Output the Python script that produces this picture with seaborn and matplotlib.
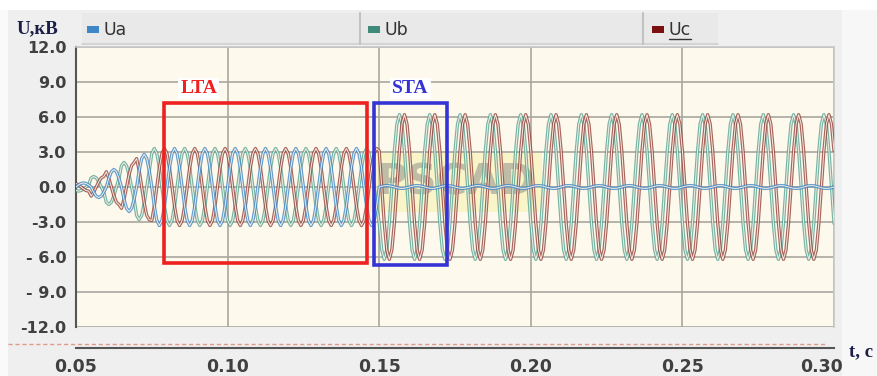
import numpy as np
import pandas as pd
import matplotlib.pyplot as plt
import matplotlib.patheffects as pe
import matplotlib.transforms as mtransforms
import seaborn as sns
from matplotlib.patches import Rectangle
from matplotlib.lines import Line2D

t_start = 0.05
t_end = 0.30
period = 0.01            # с, один период
samples_per_cycle = 12
phases = ["Ua", "Ub", "Uc"]
colors = ["#3f86c8", "#55a393", "#94403a"]

# один период, нормированный к амплитуде (шаг 30 градусов)
cycle_shape = [0.0, 0.5, 0.87, 1.0, 0.87, 0.5, 0.0, -0.5, -0.87, -1.0, -0.87, -0.5]
pre_shift = [0, 4, 8]          # сдвиг фаз до замыкания, в отсчётах
post_shift = [0, 5, 7]         # сдвиг фаз после замыкания
ramp_amp = [0.35, 0.9, 1.5, 2.1, 2.8]   # кВ, огибающая по полупериодам при включении
steady_amp = 3.3               # кВ
post_amp = [0.12, 6.2, 6.2]    # кВ после замыкания фазы A
fault_time = 0.1498

lta_box = [0.079, 0.146, -6.55, 7.17]
sta_box = [0.1483, 0.1724, -6.7, 7.17]

y_ticks = [12, 9, 6, 3, 0, -3, -6, -9, -12]
y_labels = ["12.0", "9.0", "6.0", "3.0", "0.0", "-3.0", "- 6.0", "- 9.0", "-12.0"]
x_ticks = [0.05, 0.10, 0.15, 0.20, 0.25, 0.30]
x_labels = ["0.05", "0.10", "0.15", "0.20", "0.25", "0.30"]

# --- сборка рядов ---
dt = period / samples_per_cycle
n = int(round((t_end - t_start) / dt)) + 1
k = np.arange(n)
t = t_start + k * dt
half = samples_per_cycle // 2
env = np.full(n, steady_amp)
env[:len(ramp_amp) * half] = np.repeat(ramp_amp, half)
shape = np.array(cycle_shape)

frames = []
for i, name in enumerate(phases):
    pre = env * shape[(k - pre_shift[i]) % samples_per_cycle]
    post = post_amp[i] * shape[(k - post_shift[i]) % samples_per_cycle]
    u = np.where(t >= fault_time, post, pre)
    frames.append(pd.DataFrame({"t": t, "U": u, "phase": name}))
df = pd.concat(frames, ignore_index=True)

sns.set_style("white")
plt.rcParams["font.family"] = ["DejaVu Sans"]

W, H = 878, 376
fig = plt.figure(figsize=(W / 100, H / 100), dpi=100, facecolor="#efefef")


def fx(px):
    return px / W


def fy(py):
    return 1 - py / H


# фон окна
fig.patches.append(Rectangle((0, fy(10)), 1, 10 / H, transform=fig.transFigure,
                             facecolor="white", edgecolor="none", zorder=-1))
fig.patches.append(Rectangle((fx(842), 0), 36 / W, fy(10), transform=fig.transFigure,
                             facecolor="#f7f7f7", edgecolor="none", zorder=-1))
fig.patches.append(Rectangle((0, 0), 8 / W, fy(10), transform=fig.transFigure,
                             facecolor="#fafafa", edgecolor="none", zorder=-1))

ax = fig.add_axes([fx(76), fy(327), (834 - 76) / W, (327 - 47) / H])
ax.set_facecolor("#fdf9ec")

palette = dict(zip(phases, colors))
sns.lineplot(data=df, x="t", y="U", hue="phase", hue_order=["Ub", "Uc", "Ua"],
             palette=palette, estimator=None, sort=False, linewidth=0.7,
             legend=False, ax=ax, zorder=3)
# «двойной» контур линий, как на скриншоте PSCAD
for line, col in zip(ax.get_lines(), [colors[1], colors[2], colors[0]]):
    line.set_color("#f4efe4")
    line.set_path_effects([pe.Stroke(linewidth=2.4, foreground=col, alpha=0.8), pe.Normal()])

ax.set_xlim(t_start, t_end)
ax.set_ylim(-12, 12)
ax.set_xticks(x_ticks)
ax.set_xticklabels(x_labels)
ax.set_yticks(y_ticks)
ax.set_yticklabels(y_labels)
ax.grid(True, color="#a9a79e", linewidth=1.2)
ax.set_axisbelow(True)
ax.set_xlabel("")
ax.set_ylabel("")

for s in ["top", "right"]:
    ax.spines[s].set_color("#c8c8c8")
    ax.spines[s].set_linewidth(1.2)
ax.spines["left"].set_color("#555555")
ax.spines["left"].set_linewidth(1.5)
ax.spines["bottom"].set_position(("outward", 15))
ax.spines["bottom"].set_color("#555555")
ax.spines["bottom"].set_linewidth(1.5)
ax.tick_params(axis="y", direction="out", length=4, width=1.2, color="#555555",
               pad=3, labelsize=11.5, labelcolor="#404040")
ax.tick_params(axis="x", direction="out", length=3, width=1.2, color="#555555",
               pad=4.5, labelsize=12.5, labelcolor="#404040")
for lab in ax.get_xticklabels() + ax.get_yticklabels():
    lab.set_fontweight("bold")
# последняя подпись сдвинута влево, чтобы не наезжать на «t, c»
last = ax.get_xticklabels()[-1]
last.set_transform(last.get_transform() + mtransforms.ScaledTranslation(-12 / 100, 0, fig.dpi_scale_trans))

# зоны LTA / STA
for box, col, label in [(lta_box, "#ee2020", "LTA"), (sta_box, "#3434d4", "STA")]:
    x0, x1, y0, y1 = box
    ax.add_patch(Rectangle((x0, y0), x1 - x0, y1 - y0, fill=False,
                           edgecolor=col, linewidth=2.6, zorder=5))
    ax.text((x0 + x1) / 2 if label == "STA" else x0 + 0.0115, y1 + 0.55, label,
            color=col, fontsize=14, fontweight="bold", family="Liberation Serif",
            ha="center", va="bottom", zorder=6,
            bbox=dict(facecolor="white", edgecolor="none", pad=1.5))

# водяной знак
ax.text(0.175, 0.4, "PSCAD", fontsize=30, fontweight="bold", color="#7a7a7a",
        alpha=0.45, ha="center", va="center", zorder=2,
        bbox=dict(facecolor="#f6f2a8", edgecolor="none", alpha=0.5, pad=6))

# пунктир под графиком
fig.lines.append(Line2D([fx(8), fx(826)], [fy(344), fy(344)], transform=fig.transFigure,
                        color="#e09a8a", linewidth=1.0, linestyle=(0, (3, 2))))

# панель легенды
fig.patches.append(Rectangle((fx(82), fy(44)), (718 - 82) / W, 31 / H,
                             transform=fig.transFigure, facecolor="#e9e9e9",
                             edgecolor="none", zorder=1))
fig.lines.append(Line2D([fx(82), fx(718)], [fy(44), fy(44)], transform=fig.transFigure,
                        color="#cfcfcf", linewidth=1.2))
for sx in [360, 643]:
    fig.lines.append(Line2D([fx(sx), fx(sx)], [fy(13), fy(44)], transform=fig.transFigure,
                            color="#c2c2c2", linewidth=1.5))
for px, name, col in [(87, "Ua", colors[0]), (368, "Ub", "#3f8a78"), (652, "Uc", "#7a1010")]:
    fig.patches.append(Rectangle((fx(px), fy(33)), 12 / W, 7 / H, transform=fig.transFigure,
                                 facecolor=col, edgecolor="none", zorder=2))
    fig.text(fx(px + 17), fy(30), name, fontsize=12.5, color="#333333",
             ha="left", va="center")
fig.lines.append(Line2D([fx(669), fx(691)], [fy(39), fy(39)], transform=fig.transFigure,
                        color="#333333", linewidth=1.0))

# подписи осей
fig.text(fx(17), fy(29), "U,кВ", fontsize=13.5, fontweight="bold",
         family="Liberation Serif", color="#1b1f48", ha="left", va="center")
fig.text(fx(849), fy(352), "t, c", fontsize=13.5, fontweight="bold",
         family="Liberation Serif", color="#1b1f48", ha="left", va="center")

fig.savefig("out.png", dpi=100, facecolor=fig.get_facecolor())
